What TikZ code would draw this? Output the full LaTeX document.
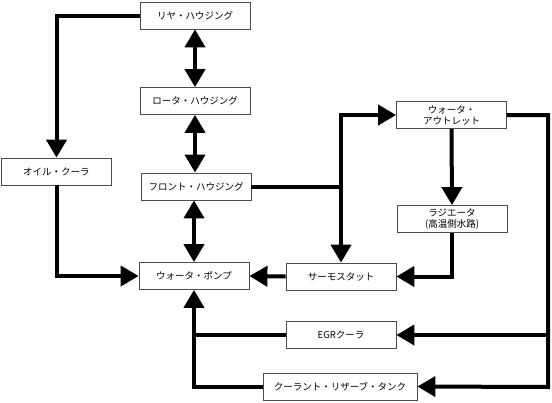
\documentclass[tikz,border=0pt]{standalone}
\usepackage{fontspec}
\setmainfont{Noto Sans CJK JP}
\usetikzlibrary{arrows.meta}

\tikzset{
  bloc/.style={draw=black!70, line width=0.8pt, fill=white, inner sep=0pt,
    minimum width=110pt, minimum height=27pt, align=center,
    font=\fontsize{9.5}{11}\selectfont},
  flux/.style={line width=4pt, -{Triangle[length=18pt,width=20pt]}},
  liaison/.style={line width=4pt},
  double/.style={line width=4pt, {Triangle[length=18pt,width=20pt]}-{Triangle[length=18pt,width=20pt]}},
}

\begin{document}
\begin{tikzpicture}[x=1pt,y=-1pt]
  \useasboundingbox (0,0) rectangle (552,402);

  % Blocs
  \node[bloc] (arriere) at (195,15.5) {リヤ・ハウジング};
  \node[bloc] (rotor) at (195,101) {ロータ・ハウジング};
  \node[bloc] (huile) at (56.5,171.5) {オイル・クーラ};
  \node[bloc] (avant) at (196,186.5) {フロント・ハウジング};
  \node[bloc] (pompe) at (194,276) {ウォータ・ポンプ};
  \node[bloc] (sortie) at (451.5,115) {ウォータ・\\アウトレット};
  \node[bloc] (radiateur) at (452,219) {ラジエータ\\(高温側水路)};
  \node[bloc] (thermo) at (341,276.5) {サーモスタット};
  \node[bloc] (egr) at (341,335) {EGRクーラ};
  \node[bloc, minimum width=154pt] (reservoir) at (340,386.5) {クーラント・リザーブ・タンク};

  % Points de jonction
  \coordinate (j) at (thermo.north |- avant.east);
  \coordinate (droite) at (548,387);

  % Liaisons
  \draw[flux] (arriere.west) -| (huile.north);
  \draw[double] (arriere.south) -- (rotor.north);
  \draw[double] (rotor.south) -- (rotor.south |- avant.north);
  \draw[double] (pompe.north |- avant.south) -- (pompe.north);
  \draw[flux] (huile.south) |- (pompe.west);
  \draw[liaison] (avant.east) -- (j);
  \draw[flux] (j) |- (sortie.west);
  \draw[flux] (j) -- (thermo.north);
  \draw[flux] (sortie.south) -- (radiateur.north);
  \draw[flux] (radiateur.south) |- (thermo.east);
  \draw[flux] (thermo.west) -- (pompe.east);
  \draw[flux] (sortie.east) -| (droite) -- (reservoir.east);
  \draw[flux] (egr.east -| droite) -- (egr.east);
  \draw[flux] (reservoir.west) -| (pompe.south);
  \draw[liaison] (egr.west) -- (egr.west -| pompe.south);
\end{tikzpicture}
\end{document}
